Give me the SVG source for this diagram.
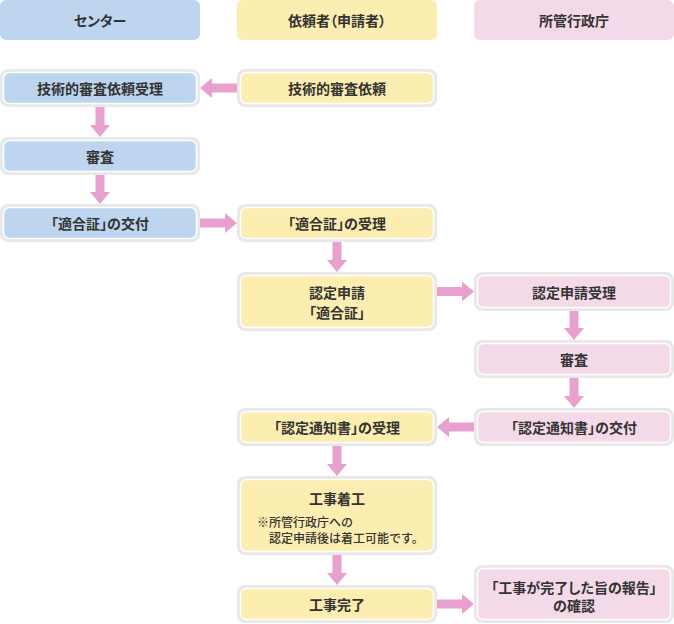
<svg xmlns="http://www.w3.org/2000/svg" width="674" height="624" viewBox="0 0 674 624">
<style>
  .halo { fill: #e8e8e8; }
  .blue { fill: #bdd5ee; }
  .yellow { fill: #fcedb0; }
  .pink { fill: #f4dae8; }
  .inner { stroke: #ffffff; stroke-width: 1.5; }
  .t { font-family: "Noto Sans CJK JP", "Noto Sans", sans-serif; font-size: 14px; font-weight: bold; fill: #333333; text-anchor: middle; dominant-baseline: central; font-feature-settings: "palt"; }
  .note { font-family: "Noto Sans CJK JP", "Noto Sans", sans-serif; font-size: 12px; font-weight: 500; fill: #333333; dominant-baseline: central; }
  .arrow { fill: #e8a0cf; }
</style>
<rect width="674" height="624" fill="#ffffff"/>

<g id="header-center">
  <rect class="blue" x="0" y="0" width="200" height="40" rx="6"/>
  <text class="t" x="100" y="20">センター</text>
</g>
<g id="header-applicant">
  <rect class="yellow" x="237" y="0" width="200" height="40" rx="6"/>
  <text class="t" x="337" y="20">依頼者（申請者）</text>
</g>
<g id="header-authority">
  <rect class="pink" x="474" y="0" width="200" height="40" rx="6"/>
  <text class="t" x="574" y="20">所管行政庁</text>
</g>

<g id="c1">
  <rect class="halo" x="0" y="69" width="200" height="38" rx="8"/>
  <rect class="blue inner" x="3.5" y="72.5" width="193" height="31" rx="6"/>
  <text class="t" x="100" y="88">技術的審査依頼受理</text>
</g>
<g id="c2">
  <rect class="halo" x="0" y="137" width="200" height="38" rx="8"/>
  <rect class="blue inner" x="3.5" y="140.5" width="193" height="31" rx="6"/>
  <text class="t" x="100" y="156">審査</text>
</g>
<g id="c3">
  <rect class="halo" x="0" y="204" width="200" height="38" rx="8"/>
  <rect class="blue inner" x="3.5" y="207.5" width="193" height="31" rx="6"/>
  <text class="t" x="100" y="223">「適合証」の交付</text>
</g>

<g id="a1">
  <rect class="halo" x="237" y="69" width="200" height="38" rx="8"/>
  <rect class="yellow inner" x="240.5" y="72.5" width="193" height="31" rx="6"/>
  <text class="t" x="337" y="88">技術的審査依頼</text>
</g>
<g id="a2">
  <rect class="halo" x="237" y="204" width="200" height="38" rx="8"/>
  <rect class="yellow inner" x="240.5" y="207.5" width="193" height="31" rx="6"/>
  <text class="t" x="337" y="223">「適合証」の受理</text>
</g>
<g id="a3">
  <rect class="halo" x="237" y="272" width="200" height="59" rx="8"/>
  <rect class="yellow inner" x="240.5" y="275.5" width="193" height="52" rx="6"/>
  <text class="t" x="337" y="292">認定申請</text>
  <text class="t" x="337" y="312">「適合証」</text>
</g>
<g id="a4">
  <rect class="halo" x="237" y="408" width="200" height="38" rx="8"/>
  <rect class="yellow inner" x="240.5" y="411.5" width="193" height="31" rx="6"/>
  <text class="t" x="337" y="427">「認定通知書」の受理</text>
</g>
<g id="a5">
  <rect class="halo" x="237" y="476" width="200" height="79" rx="8"/>
  <rect class="yellow inner" x="240.5" y="479.5" width="193" height="72" rx="6"/>
  <text class="t" x="337" y="498">工事着工</text>
  <text class="note" x="257" y="521">※所管行政庁への</text>
  <text class="note" x="269" y="537">認定申請後は着工可能です。</text>
</g>
<g id="a6">
  <rect class="halo" x="237" y="585" width="200" height="38" rx="8"/>
  <rect class="yellow inner" x="240.5" y="588.5" width="193" height="31" rx="6"/>
  <text class="t" x="337" y="604">工事完了</text>
</g>

<g id="g1">
  <rect class="halo" x="474" y="272" width="200" height="39" rx="8"/>
  <rect class="pink inner" x="477.5" y="275.5" width="193" height="32" rx="6"/>
  <text class="t" x="574" y="291.5">認定申請受理</text>
</g>
<g id="g2">
  <rect class="halo" x="474" y="340" width="200" height="38" rx="8"/>
  <rect class="pink inner" x="477.5" y="343.5" width="193" height="31" rx="6"/>
  <text class="t" x="574" y="359">審査</text>
</g>
<g id="g3">
  <rect class="halo" x="474" y="408" width="200" height="38" rx="8"/>
  <rect class="pink inner" x="477.5" y="411.5" width="193" height="31" rx="6"/>
  <text class="t" x="574" y="427">「認定通知書」の交付</text>
</g>
<g id="g4">
  <rect class="halo" x="474" y="565" width="200" height="58" rx="8"/>
  <rect class="pink inner" x="477.5" y="568.5" width="193" height="51" rx="6"/>
  <text class="t" x="574" y="586.5">「工事が完了した旨の報告」</text>
  <text class="t" x="574" y="605">の確認</text>
</g>

<g id="connectors">
  <!-- down arrows -->
  <path class="arrow" d="M95.5,107 H104.5 V125 H110 L100,137 L90,125 H95.5 Z"/>
  <path class="arrow" d="M95.5,175 H104.5 V192 H110 L100,204 L90,192 H95.5 Z"/>
  <path class="arrow" d="M332.5,242 H341.5 V260 H347 L337,272 L327,260 H332.5 Z"/>
  <path class="arrow" d="M332.5,446 H341.5 V464 H347 L337,476 L327,464 H332.5 Z"/>
  <path class="arrow" d="M332.5,555 H341.5 V573 H347 L337,585 L327,573 H332.5 Z"/>
  <path class="arrow" d="M569.5,311 H578.5 V328 H584 L574,340 L564,328 H569.5 Z"/>
  <path class="arrow" d="M569.5,378 H578.5 V396 H584 L574,408 L564,396 H569.5 Z"/>
  <!-- horizontal arrows -->
  <path class="arrow" d="M237,83.5 V92.5 H212 V98 L200,88 L212,78 V83.5 Z"/>
  <path class="arrow" d="M200,218.5 V227.5 H225 V233 L237,223 L225,213 V218.5 Z"/>
  <path class="arrow" d="M437,287 V296 H462 V301.5 L474,291.5 L462,281.5 V287 Z"/>
  <path class="arrow" d="M474,422.5 V431.5 H449 V437 L437,427 L449,417 V422.5 Z"/>
  <path class="arrow" d="M437,599.5 V608.5 H462 V614 L474,604 L462,594 V599.5 Z"/>
</g>
</svg>
